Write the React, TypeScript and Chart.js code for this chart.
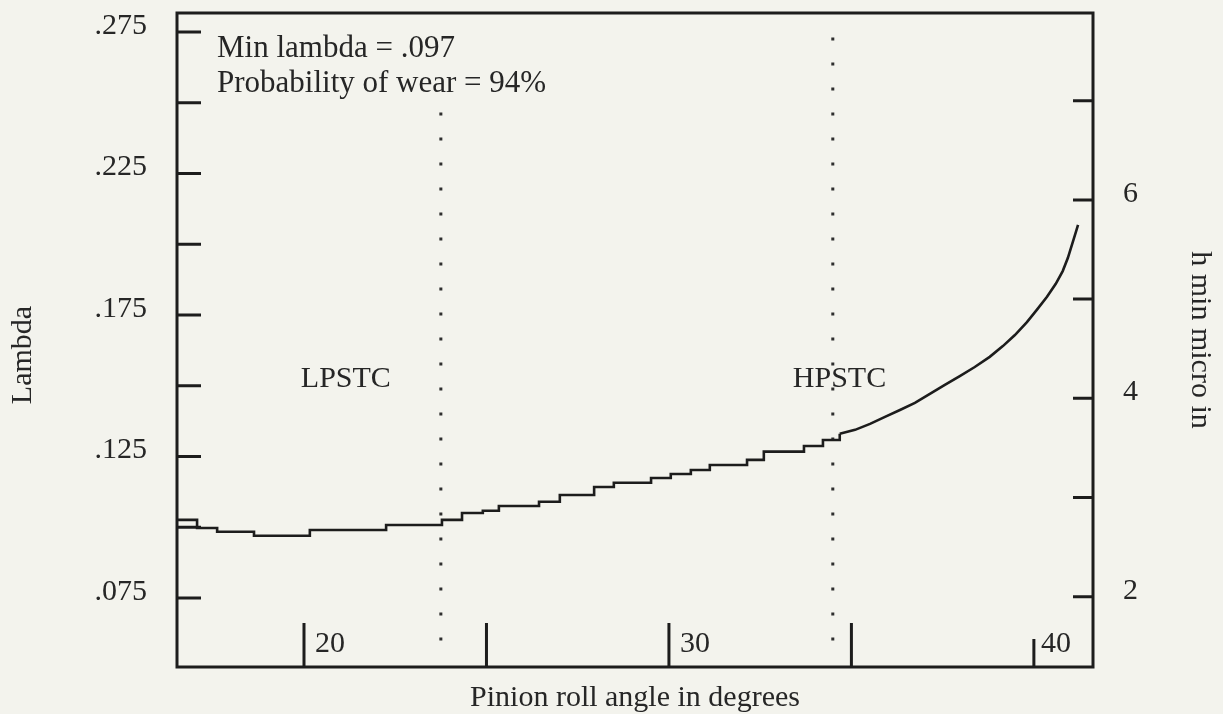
import React, { useEffect, useRef } from 'react';
import { Chart, registerables } from 'chart.js';

Chart.register(...registerables);

// ---- data ----
// staircase part of the lambda curve (start of each flat step)
const stepAngleDeg = [
  16.52, 17.07, 17.62, 18.63, 20.16, 22.25, 23.78, 24.33, 24.9, 25.34,
  26.44, 27.01, 27.95, 28.49, 29.51, 30.05, 30.6, 31.12, 32.14, 32.6,
  33.7, 34.22, 34.68,
];
const stepLambda = [
  0.1026, 0.0997, 0.0984, 0.097, 0.099, 0.1008, 0.1026, 0.105, 0.1058, 0.1075,
  0.109, 0.1114, 0.1142, 0.1157, 0.1174, 0.1188, 0.1202, 0.122, 0.1238, 0.1267,
  0.1287, 0.1308, 0.133,
];
// steep rising part of the lambda curve
const riseAngleDeg = [
  34.68, 35.1, 35.51, 35.92, 36.33, 36.74, 37.15, 37.56, 37.97, 38.38,
  38.79, 39.15, 39.48, 39.81, 40.08, 40.36, 40.6, 40.79, 40.93, 41.04,
  41.15, 41.21,
];
const riseLambda = [
  0.133, 0.1344, 0.1365, 0.139, 0.1414, 0.1439, 0.1471, 0.1503, 0.1534, 0.1566,
  0.1602, 0.164, 0.1679, 0.1725, 0.1768, 0.1814, 0.186, 0.1905, 0.1951, 0.1997,
  0.2043, 0.2068,
];
const transitionAngles = [23.75, 34.49];
const transitionNames = ['LPSTC', 'HPSTC'];
const transitionTop = [0.252, 0.2775];
const transitionBottom = 0.06;

const lambdaTicks = [0.075, 0.1, 0.125, 0.15, 0.175, 0.2, 0.225, 0.25, 0.275];
const lambdaLabels = ['.075', '', '.125', '', '.175', '', '.225', '', '.275'];
const hminTicks = [2, 3, 4, 5, 6, 7];
const hminLabels = ['2', '', '4', '', '6', ''];
const angleTicks = [20, 25, 30, 35, 40];
const angleLabels = ['20', '', '30', '', '40'];
const noteLines = ['Min lambda = .097', 'Probability of wear = 94%'];
const leftTitle = 'Lambda';

// axis ranges
const angleMin = 16.52;
const angleMax = 41.62;
const lambdaMin = 0.0506;
const lambdaMax = 0.2817;
const hminMin = 1.291;
const hminMax = 7.884;

const FONT = "'Liberation Serif', 'Times New Roman', 'DejaVu Serif', serif";
const INK = '#1c1c1c';
const TEXT = '#262626';
const BG = '#f3f3ed';

const framePlugin = {
  id: 'framePlugin',
  beforeDraw(chart: any) {
    const { ctx, width, height } = chart;
    ctx.save();
    ctx.fillStyle = BG;
    ctx.fillRect(0, 0, width, height);
    ctx.restore();
  },
  afterDraw(chart: any) {
    const { ctx, chartArea } = chart;
    const { left, right, top, bottom } = chartArea;
    const x = chart.scales.x;
    const y = chart.scales.y;
    const y2 = chart.scales.y2;
    ctx.save();
    ctx.strokeStyle = INK;
    ctx.lineWidth = 3;
    ctx.lineCap = 'butt';
    ctx.strokeRect(left, top, right - left, bottom - top);

    // inner tick marks
    ctx.beginPath();
    lambdaTicks.forEach((v) => {
      const py = y.getPixelForValue(v);
      ctx.moveTo(left, py);
      ctx.lineTo(left + 24, py);
    });
    hminTicks.forEach((v) => {
      const py = y2.getPixelForValue(v);
      ctx.moveTo(right - 20, py);
      ctx.lineTo(right, py);
    });
    const angleTickLen = [44, 44, 44, 44, 28];
    angleTicks.forEach((v, i) => {
      const px = x.getPixelForValue(v);
      ctx.moveTo(px, bottom);
      ctx.lineTo(px, bottom - angleTickLen[i]);
    });
    ctx.stroke();

    // texts
    ctx.fillStyle = TEXT;
    ctx.textAlign = 'left';
    ctx.textBaseline = 'alphabetic';
    ctx.font = `30px ${FONT}`;
    const labelGap = [11, 0, 11, 0, 7];
    angleTicks.forEach((v, i) => {
      if (!angleLabels[i]) return;
      const px = x.getPixelForValue(v);
      ctx.fillText(angleLabels[i], px + labelGap[i], bottom - 15);
    });
    ctx.font = `31px ${FONT}`;
    noteLines.forEach((t, i) => {
      ctx.fillText(t, left + 40, top + 44 + i * 35);
    });
    ctx.font = `30px ${FONT}`;
    const offsets = [-140, -40];
    transitionNames.forEach((t, i) => {
      const px = x.getPixelForValue(transitionAngles[i]);
      ctx.fillText(t, px + offsets[i], 387);
    });

    // left axis title
    ctx.translate(23, (top + bottom) / 2 + 15);
    ctx.rotate(-Math.PI / 2);
    ctx.textAlign = 'center';
    ctx.textBaseline = 'middle';
    ctx.fillText(leftTitle, 0, 0);
    ctx.restore();
  },
};

export default function App() {
  const canvasRef = useRef<HTMLCanvasElement | null>(null);

  useEffect(() => {
    if (!canvasRef.current) return;
    const tickFont = { family: FONT, size: 30, lineHeight: 1 };
    const noPad = (s: any) => {
      s.paddingTop = 0;
      s.paddingBottom = 0;
      s.paddingLeft = 0;
      s.paddingRight = 0;
    };
    const chart = new Chart(canvasRef.current, {
      type: 'line',
      data: {
        datasets: [
          {
            data: stepAngleDeg.map((a, i) => ({ x: a, y: stepLambda[i] })),
            borderColor: INK,
            borderWidth: 2.6,
            pointRadius: 0,
            stepped: 'before',
            xAxisID: 'x',
            yAxisID: 'y',
          },
          {
            data: riseAngleDeg.map((a, i) => ({ x: a, y: riseLambda[i] })),
            borderColor: INK,
            borderWidth: 2.6,
            pointRadius: 0,
            tension: 0,
            xAxisID: 'x',
            yAxisID: 'y',
          },
          ...transitionAngles.map((a, i) => ({
            data: [
              { x: a, y: transitionBottom },
              { x: a, y: transitionTop[i] },
            ],
            borderColor: '#2e2e2e',
            borderWidth: 3,
            borderDash: [3, 22],
            pointRadius: 0,
            xAxisID: 'x',
            yAxisID: 'y',
          })),
        ],
      },
      options: {
        animation: false,
        responsive: false,
        maintainAspectRatio: false,
        layout: { padding: { top: 13, left: 0, right: 0, bottom: 0 } },
        plugins: { legend: { display: false }, tooltip: { enabled: false } },
        scales: {
          x: {
            type: 'linear',
            position: 'bottom',
            min: angleMin,
            max: angleMax,
            grid: { display: false },
            border: { display: false },
            afterBuildTicks: (s: any) => {
              s.ticks = angleTicks.map((value) => ({ value }));
            },
            afterFit: (s: any) => {
              s.height = 47;
              noPad(s);
            },
            ticks: { display: false },
            title: {
              display: true,
              text: 'Pinion roll angle in degrees',
              color: TEXT,
              font: { family: FONT, size: 30, lineHeight: 1 },
              padding: { top: 0, bottom: 1 },
            },
          },
          y: {
            type: 'linear',
            position: 'left',
            min: lambdaMin,
            max: lambdaMax,
            grid: { display: false },
            border: { display: false },
            afterBuildTicks: (s: any) => {
              s.ticks = lambdaTicks.map((value) => ({ value }));
            },
            afterFit: (s: any) => {
              s.width = 177;
              noPad(s);
            },
            ticks: {
              font: tickFont,
              color: TEXT,
              padding: 22,
              labelOffset: -6,
              autoSkip: false,
              callback: (_v: any, i: number) => lambdaLabels[i],
            },
          },
          y2: {
            type: 'linear',
            position: 'right',
            min: hminMin,
            max: hminMax,
            grid: { display: false },
            border: { display: false },
            afterBuildTicks: (s: any) => {
              s.ticks = hminTicks.map((value) => ({ value }));
            },
            afterFit: (s: any) => {
              s.width = 130;
              noPad(s);
            },
            ticks: {
              font: tickFont,
              color: TEXT,
              padding: 22,
              labelOffset: -6,
              autoSkip: false,
              callback: (_v: any, i: number) => hminLabels[i],
            },
            title: {
              display: true,
              text: 'h min micro in',
              color: TEXT,
              font: { family: FONT, size: 30, lineHeight: 1 },
              padding: { top: 8, bottom: 0 },
            },
          },
        },
      } as any,
      plugins: [framePlugin],
    });
    return () => chart.destroy();
  }, []);

  return (
    <div
      style={{
        position: 'fixed',
        left: 0,
        top: 0,
        width: 1223,
        height: 714,
        background: BG,
      }}
    >
      <canvas ref={canvasRef} width={1223} height={714} style={{ display: 'block' }} />
    </div>
  );
}
